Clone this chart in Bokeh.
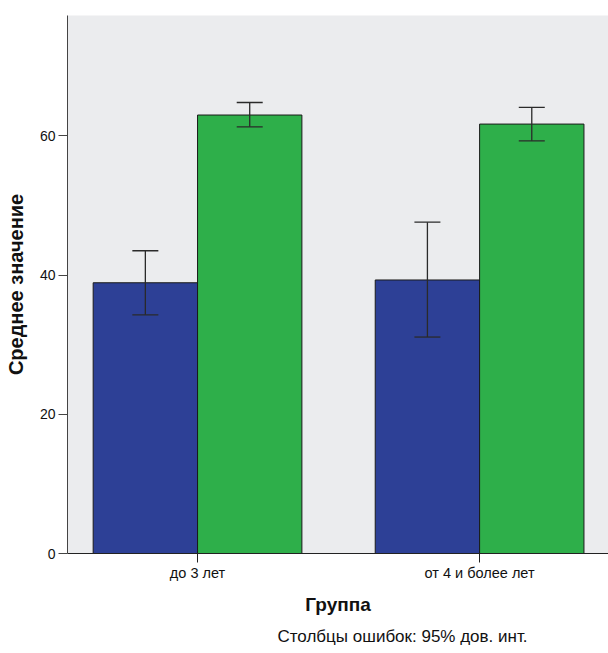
from bokeh.plotting import figure
from bokeh.models import ColumnDataSource, Whisker, FixedTicker, Title, Range1d, TeeHead
from bokeh.embed import file_html
from bokeh.resources import INLINE

# ---- data ----
groups = ["до 3 лет", "от 4 и более лет"]
s1_mean = [38.9, 39.3]
s1_lower = [34.3, 31.1]
s1_upper = [43.5, 47.6]
s2_mean = [63.0, 61.7]
s2_lower = [61.3, 59.3]
s2_upper = [64.8, 64.1]
y_ticks = [0, 20, 40, 60]

BAR_W = 0.37
pos = [i + 1 for i in range(len(groups))]

p = figure(width=608, height=653, output_backend="svg", toolbar_location=None,
           x_range=Range1d(0.539, 2.457), y_range=Range1d(0, 77.3),
           min_border_left=67, min_border_right=0, min_border_top=15, min_border_bottom=99)
p.background_fill_color = "#EBECEE"
p.border_fill_color = "white"
p.outline_line_color = None
p.xgrid.grid_line_color = None
p.ygrid.grid_line_color = None

src1 = ColumnDataSource(dict(x=[c - BAR_W / 2 for c in pos], top=s1_mean, lo=s1_lower, hi=s1_upper))
src2 = ColumnDataSource(dict(x=[c + BAR_W / 2 for c in pos], top=s2_mean, lo=s2_lower, hi=s2_upper))

p.vbar(x="x", top="top", bottom=0, width=BAR_W, source=src1,
       fill_color="#2D4096", line_color="#1a1a1a", line_width=1)
p.vbar(x="x", top="top", bottom=0, width=BAR_W, source=src2,
       fill_color="#2EAF4A", line_color="#1a1a1a", line_width=1)

for s in (src1, src2):
    w = Whisker(base="x", lower="lo", upper="hi", source=s, line_color="#2a2a2a", line_width=1.3,
                level="overlay",
                upper_head=TeeHead(size=26, line_color="#2a2a2a", line_width=1.3),
                lower_head=TeeHead(size=26, line_color="#2a2a2a", line_width=1.3))
    p.add_layout(w)

FONT = "Liberation Sans"

p.xaxis.ticker = FixedTicker(ticks=pos)
p.xaxis.major_label_overrides = {c: g for c, g in zip(pos, groups)}
p.xaxis.minor_tick_line_color = None
p.xaxis.major_tick_in = 0
p.xaxis.major_tick_out = 9
p.xaxis.axis_line_color = "#222222"
p.xaxis.major_tick_line_color = "#222222"
p.xaxis.major_label_text_font = FONT
p.xaxis.major_label_text_font_size = "14.5px"
p.xaxis.major_label_text_color = "#111111"
p.xaxis.major_label_standoff = 2
p.xaxis.axis_label = "Группа"
p.xaxis.axis_label_text_font = FONT
p.xaxis.axis_label_text_font_style = "bold"
p.xaxis.axis_label_text_font_size = "19px"
p.xaxis.axis_label_text_color = "#111111"
p.xaxis.axis_label_standoff = 10

p.yaxis.ticker = FixedTicker(ticks=y_ticks)
p.yaxis.minor_tick_line_color = None
p.yaxis.major_tick_in = 0
p.yaxis.major_tick_out = 9
p.yaxis.axis_line_color = "#444444"
p.yaxis.major_tick_line_color = "#444444"
p.yaxis.major_label_text_font = FONT
p.yaxis.major_label_text_font_size = "14px"
p.yaxis.major_label_text_color = "#111111"
p.yaxis.major_label_standoff = 3
p.yaxis.axis_label = "Среднее значение"
p.yaxis.axis_label_text_font = FONT
p.yaxis.axis_label_text_font_style = "bold"
p.yaxis.axis_label_text_font_size = "20px"
p.yaxis.axis_label_text_color = "#111111"
p.yaxis.axis_label_standoff = 10

note = Title(text="Столбцы ошибок: 95% дов. инт.", align="left", offset=210,
             text_font=FONT, text_font_size="17px", text_font_style="normal",
             text_color="#111111", standoff=15)
p.add_layout(note, "below")

open("out.html", "w").write(file_html(p, INLINE))
